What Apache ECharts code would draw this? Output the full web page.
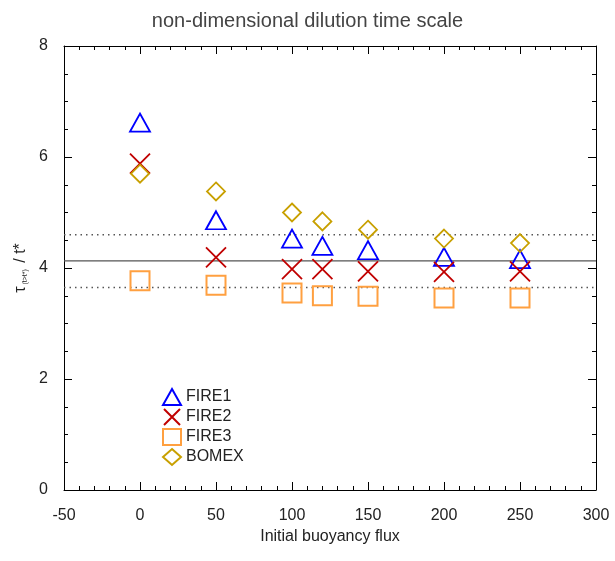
<!DOCTYPE html>
<html><head><meta charset="utf-8">
<script src="https://cdn.jsdelivr.net/npm/echarts@6/dist/echarts.min.js"></script>
<style>html,body{margin:0;padding:0;background:#fff}#c{width:615px;height:561px}</style>
</head><body><div id="c"></div>
<script>
var xCats = [0, 50, 100, 120, 150, 200, 250];
var fire1 = [6.62, 4.86, 4.53, 4.40, 4.32, 4.20, 4.16];
var fire2 = [5.88, 4.19, 3.98, 3.98, 3.94, 3.93, 3.94];
var fire3 = [3.77, 3.69, 3.55, 3.50, 3.49, 3.46, 3.46];
var bomex = [5.70, 5.38, 5.00, 4.84, 4.69, 4.53, 4.45];
var meanLine = 4.13;
var upperLine = 4.60;
var lowerLine = 3.65;
var xRange = [-50, 300];
var yRange = [0, 8];

function pts(v){ return xCats.map(function(x,i){ return [x, v[i]]; }); }
var font = 'Liberation Sans, Arial, sans-serif';
var crossPath = 'path://M0,0L10,10M10,0L0,10';
function ax(extra, split){
  return Object.assign({
    axisLine:{show:true,onZero:false,lineStyle:{color:'#000',width:1}},
    axisTick:{show:true,inside:true,length:8,lineStyle:{color:'#000'}},
    minorTick:{show:true,splitNumber:split,length:4,lineStyle:{color:'#000'}},
    splitLine:{show:false}
  }, extra);
}
var chart = echarts.init(document.getElementById('c'));
chart.setOption({
  animation:false,
  backgroundColor:'#fff',
  title:{text:'non-dimensional dilution time scale',left:'center',top:6,
    textStyle:{fontFamily:font,fontSize:20,fontWeight:'normal',color:'#444'}},
  grid:{left:64,right:19,top:46,bottom:71},
  xAxis:[
    ax({type:'value',min:xRange[0],max:xRange[1],interval:50,position:'bottom',
      name:'Initial buoyancy flux',nameLocation:'middle',nameGap:38,
      nameTextStyle:{fontFamily:font,fontSize:16,color:'#222'},
      axisLabel:{fontFamily:font,fontSize:16,color:'#222',margin:18}},5),
    ax({type:'value',min:xRange[0],max:xRange[1],interval:50,position:'top',
      axisLabel:{show:false}},5)
  ],
  yAxis:[
    ax({type:'value',min:yRange[0],max:yRange[1],interval:2,position:'left',
      name:'{t|τ}{s|(t>t*)}{t| / t*}',nameLocation:'middle',nameGap:24,nameRotate:90,
      nameTextStyle:{fontFamily:font,color:'#222',rich:{t:{fontSize:16,fontFamily:font,color:'#222'},s:{fontSize:7,fontFamily:font,color:'#222',verticalAlign:'bottom',padding:[6,2,0,2]}}},
      axisLabel:{fontFamily:font,fontSize:16,color:'#222',margin:16}},4),
    ax({type:'value',min:yRange[0],max:yRange[1],interval:2,position:'right',
      axisLabel:{show:false}},4)
  ],
  legend:{orient:'vertical',left:157,top:383,itemGap:2,itemWidth:18,itemHeight:16,itemGap:2,
    textStyle:{fontFamily:font,fontSize:16,color:'#222',lineHeight:18},
    data:['FIRE1','FIRE2','FIRE3','BOMEX']},
  series:[
    {type:'line',data:[[xRange[0],meanLine],[xRange[1],meanLine]],symbol:'none',silent:true,
      lineStyle:{color:'#555',width:1.2},z:1},
    {type:'line',data:[[xRange[0],upperLine],[xRange[1],upperLine]],symbol:'none',silent:true,
      lineStyle:{color:'#555',width:1.5,type:[1.5,4]},z:1},
    {type:'line',data:[[xRange[0],lowerLine],[xRange[1],lowerLine]],symbol:'none',silent:true,
      lineStyle:{color:'#555',width:1.5,type:[1.5,4]},z:1},
    {name:'FIRE1',type:'scatter',data:pts(fire1),symbol:'triangle',symbolSize:[20,18],
      itemStyle:{color:'rgba(0,0,0,0)',borderColor:'#0000ff',borderWidth:1.8,opacity:1}},
    {name:'FIRE2',type:'scatter',data:pts(fire2),symbol:crossPath,symbolSize:20,
      itemStyle:{color:'rgba(0,0,0,0)',borderColor:'#c00000',borderWidth:1.8,opacity:1}},
    {name:'FIRE3',type:'scatter',data:pts(fire3),symbol:'rect',symbolSize:19,
      itemStyle:{color:'rgba(0,0,0,0)',borderColor:'#ffa040',borderWidth:2,opacity:1}},
    {name:'BOMEX',type:'scatter',data:pts(bomex),symbol:'diamond',symbolSize:18,
      itemStyle:{color:'rgba(0,0,0,0)',borderColor:'#c8a000',borderWidth:1.8,opacity:1}}
  ]
});
</script></body></html>
